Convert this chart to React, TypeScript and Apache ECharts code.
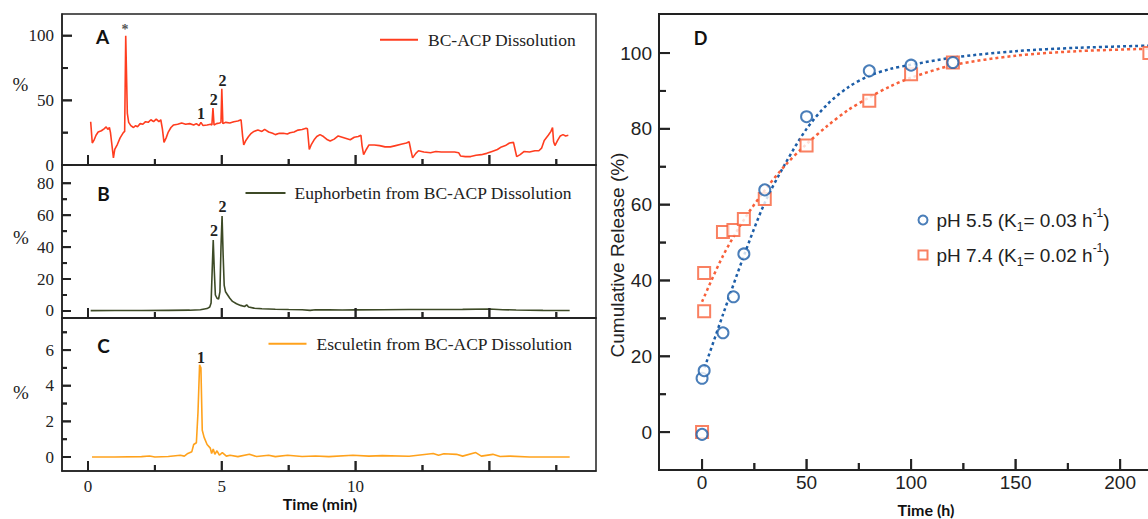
import React, { useEffect, useRef } from "react";
import * as echarts from "echarts";

// ---------- Panel A: BC-ACP dissolution chromatogram [time (min), %] ----------
const traceA: [number, number][] = [
  [0.1, 33.5], [0.16, 17], [0.22, 19], [0.3, 23], [0.38, 25.5], [0.5, 26.5], [0.6, 28], [0.68, 29.5],
  [0.74, 27.5], [0.8, 29], [0.84, 25], [0.88, 18], [0.95, 5.5], [1.0, 12], [1.1, 16], [1.2, 21],
  [1.32, 25], [1.37, 26], [1.41, 100], [1.47, 40], [1.52, 33], [1.6, 30.5], [1.7, 29], [1.78, 30.5],
  [1.85, 29.5], [1.95, 32], [2.05, 31.5], [2.15, 33.5], [2.25, 33], [2.35, 35], [2.45, 33.5], [2.55, 35.5],
  [2.65, 33.5], [2.72, 35], [2.78, 28], [2.84, 17.5], [2.92, 21], [3.0, 25.5], [3.1, 29], [3.2, 31],
  [3.35, 31.5], [3.5, 32.5], [3.65, 31.5], [3.8, 32], [3.95, 31], [4.05, 32], [4.15, 30.5], [4.22, 33],
  [4.3, 30.5], [4.45, 31], [4.58, 31.5], [4.63, 31], [4.67, 44], [4.71, 31], [4.8, 32], [4.92, 32.5],
  [4.97, 33], [5.0, 59], [5.04, 32], [5.15, 33], [5.3, 32.5], [5.45, 33.5], [5.6, 34], [5.72, 35],
  [5.78, 22], [5.82, 15.5], [5.9, 19], [6.0, 22], [6.1, 24.5], [6.2, 26], [6.35, 27], [6.5, 26],
  [6.6, 27.5], [6.75, 25.5], [6.9, 24.5], [7.0, 23.5], [7.15, 24.5], [7.3, 24.5], [7.45, 24], [7.55, 25],
  [7.7, 25.5], [7.85, 27], [8.0, 27.5], [8.15, 28.5], [8.2, 28], [8.27, 12], [8.35, 16], [8.45, 19.5],
  [8.55, 22], [8.67, 23.5], [8.8, 22], [8.95, 19.5], [9.05, 18.5], [9.2, 20], [9.35, 22.5], [9.5, 21.5],
  [9.65, 20.5], [9.8, 19.5], [9.95, 21.5], [10.1, 22], [10.2, 23], [10.24, 15], [10.3, 8], [10.4, 12],
  [10.5, 15.5], [10.7, 15.5], [10.9, 15], [11.1, 14], [11.3, 14], [11.5, 15], [11.7, 16], [11.9, 17],
  [12.0, 18], [12.06, 12], [12.13, 5.5], [12.25, 9], [12.35, 11], [12.55, 10], [12.8, 9.5], [13.0, 10.5],
  [13.2, 10], [13.45, 10], [13.7, 10], [13.85, 9.5], [13.92, 7], [14.1, 6.5], [14.3, 6.5], [14.5, 7.5],
  [14.7, 8], [14.9, 9], [15.1, 10.5], [15.3, 12], [15.45, 14], [15.6, 15], [15.75, 17], [15.9, 17.5],
  [15.96, 12], [16.02, 6.5], [16.15, 8], [16.3, 10.5], [16.5, 10], [16.7, 11], [16.85, 11], [16.95, 13],
  [17.05, 19], [17.2, 23], [17.3, 26], [17.36, 29], [17.4, 18], [17.45, 15], [17.55, 19], [17.65, 22.5],
  [17.75, 23.5], [17.85, 22.5], [17.95, 23],
];
const peakLabelsA = [
  { t: 1.38, v: 104.5, text: "*" },
  { t: 4.22, v: 40.2, text: "1" },
  { t: 4.7, v: 50.3, text: "2" },
  { t: 5.03, v: 65, text: "2" },
];

// ---------- Panel B: Euphorbetin ----------
const traceB: [number, number][] = [
  [0.1, 0.2], [1.0, 0.3], [2.0, 0.3], [3.0, 0.4], [3.8, 0.5], [4.2, 0.8], [4.45, 1.5], [4.55, 2.5],
  [4.6, 5], [4.64, 25], [4.68, 44.5], [4.72, 25], [4.76, 10], [4.82, 8], [4.88, 7.5], [4.93, 12],
  [4.97, 40], [5.01, 59.5], [5.05, 35], [5.09, 16], [5.14, 12], [5.2, 10.5], [5.3, 8], [5.4, 6],
  [5.55, 4.5], [5.7, 3.5], [5.85, 2.8], [5.93, 3.8], [6.0, 2.5], [6.2, 1.8], [6.5, 1.4], [7.0, 1.1],
  [7.5, 0.9], [8.0, 0.8], [8.3, 0.4], [8.5, 0.8], [9.0, 0.7], [9.5, 0.6], [10.0, 0.7], [11.0, 0.8],
  [12.0, 0.9], [13.0, 0.9], [14.0, 1.0], [15.0, 1.2], [15.5, 0.8], [16.0, 0.6], [17.0, 0.4], [18.0, 0.3],
];
const peakLabelsB = [
  { t: 4.71, v: 50.1, text: "2" },
  { t: 5.03, v: 65.3, text: "2" },
];

// ---------- Panel C: Esculetin ----------
const traceC: [number, number][] = [
  [0.15, 0], [1.0, 0], [2.0, 0.02], [2.3, 0.06], [2.5, 0], [3.0, 0.03], [3.45, 0.1], [3.6, 0.05],
  [3.73, 0.2], [3.88, 0.3], [3.95, 0.7], [4.05, 0.8], [4.11, 2.5], [4.17, 5.17], [4.22, 5.0], [4.27, 1.5],
  [4.34, 1.1], [4.45, 0.7], [4.57, 0.5], [4.62, 0.2], [4.68, 0.45], [4.74, 0.15], [4.82, 0.35], [4.91, 0.1],
  [5.02, 0.25], [5.17, 0.05], [5.31, 0.1], [5.6, 0.02], [6.03, 0.15], [6.3, 0.03], [6.75, 0.1], [7.0, 0.02],
  [7.46, 0.1], [8.0, 0.03], [8.5, 0.06], [9.0, 0.02], [9.9, 0.1], [10.5, 0.05], [11.0, 0.08], [12.0, 0.04],
  [12.9, 0.2], [13.1, 0.1], [13.3, 0.18], [13.77, 0.15], [14.0, 0.05], [14.49, 0.25], [14.7, 0.05],
  [15.13, 0.15], [15.4, 0.03], [15.77, 0.05], [16.5, 0], [18.0, 0],
];
const peakLabelsC = [{ t: 4.22, v: 5.6, text: "1" }];

// ---------- Panel D: cumulative release ----------
const timesPH55 = [0, 0, 1, 10, 15, 20, 30, 50, 80, 100, 120];
const releasePH55 = [-0.6, 14.2, 16.2, 26.2, 35.7, 47, 63.9, 83.2, 95.3, 96.8, 97.5];
const timesPH74 = [0, 1, 1, 10, 15, 20, 30, 50, 80, 100, 120, 214];
const releasePH74 = [0, 31.9, 42, 52.8, 53.3, 56.2, 61.5, 75.6, 87.4, 94.4, 97.5, 100];
const fitTimesPH55 = [1.2, 10, 20, 30, 40, 50, 60, 70, 80, 90, 100, 120, 150, 180, 218];
const fitPH55 = [17, 31, 46.5, 60.5, 71, 80, 86.5, 91, 94, 95.8, 96.9, 98.8, 100.5, 101.4, 102];
const fitTimesPH74 = [0, 10, 20, 30, 40, 50, 60, 70, 80, 90, 100, 120, 150, 180, 218];
const fitPH74 = [34.4, 46.5, 56, 63.8, 70.5, 76, 80.8, 85, 88.3, 91.2, 93.5, 96.8, 99.3, 100.5, 101.2];

const nameA = "BC-ACP Dissolution";
const nameB = "Euphorbetin from BC-ACP Dissolution";
const nameC = "Esculetin from BC-ACP Dissolution";
const name55 = "pH 5.5 (K1= 0.03 h-1)";
const name74 = "pH 7.4 (K1= 0.02 h-1)";

// tick values: labelled (major) and unlabelled (minor)
const timeMajor = [0, 5, 10, 15];
const timeMinor = [2.5, 7.5, 12.5, 17.5];
const timeLabels = [0, 5, 10];
const labelsA = [0, 50, 100];
const minorA = [25, 75];
const labelsB = [0, 20, 40, 60, 80];
const minorB = [10, 30, 50, 70];
const labelsC = [0, 2, 4, 6];
const minorC = [1, 3, 5, 7];
const hoursLabels = [0, 50, 100, 150, 200];
const hoursMinor = [25, 75, 125, 175];
const releaseLabels = [0, 20, 40, 60, 80, 100];
const releaseMinor = [10, 30, 50, 70, 90];

const SERIF = "'Liberation Serif', 'Times New Roman', serif";
const SANS = "'Liberation Sans', Arial, sans-serif";
const BOLD = "Lato, 'Open Sans', sans-serif";
const INK = "#222";
const RED = "#ff3d1f";
const OLIVE = "#3d4a26";
const ORANGE = "#ffa21c";
const BLUE = "#1d5ea8";
const SALMON = "#f8603a";

const T_MIN = -0.9716;
const T_MAX = 18.984;
const D_X = [-20.6, 218.6];
const D_Y = [-10, 110.3];
const Y_A = [0, 116.8];
const Y_B = [-4.4, 91.4];
const Y_C = [-0.785, 7.8];

function makeAxis(
  dim: "x" | "y",
  gridIndex: number,
  min: number,
  max: number,
  labels: number[],
  cfg: { width: number; margin: number; fontSize: number; fontFamily: string }
) {
  return {
    type: "value",
    gridIndex,
    min,
    max,
    position: dim === "x" ? "bottom" : "left",
    axisLine: { show: true, onZero: false, lineStyle: { color: INK, width: cfg.width } },
    splitLine: { show: false },
    axisTick: { show: false },
    axisLabel: labels.length
      ? { show: true, customValues: labels, margin: cfg.margin, fontSize: cfg.fontSize, fontFamily: cfg.fontFamily, color: INK }
      : { show: false },
  };
}

// tick specs: [grid, dimension, values, value of the other axis at the frame edge, length, width]
const tickSpecs: [number, "x" | "y", number[], number, number, number][] = [
  [0, "x", timeMajor, Y_A[0], 10, 2],
  [0, "x", timeMinor, Y_A[0], 6, 2],
  [0, "y", labelsA, T_MIN, 10, 2],
  [0, "y", minorA, T_MIN, 6, 2],
  [1, "x", timeMajor, Y_B[0], 10, 2],
  [1, "x", timeMinor, Y_B[0], 6, 2],
  [1, "y", labelsB, T_MIN, 9, 2],
  [1, "y", minorB, T_MIN, 5, 2],
  [2, "x", timeMajor, Y_C[0], 10, 2],
  [2, "x", timeMinor, Y_C[0], 6, 2],
  [2, "y", labelsC, T_MIN, 9, 2],
  [2, "y", minorC, T_MIN, 5, 2],
  [3, "x", hoursLabels, D_Y[0], 11, 2],
  [3, "x", hoursMinor, D_Y[0], 7, 2],
  [3, "y", releaseLabels, D_X[0], 11, 2],
  [3, "y", releaseMinor, D_X[0], 7, 2],
];

// tick marks drawn as thin rect symbols placed through the axes' own scales
function tickSeries(axisIndex: number, dim: "x" | "y", values: number[], at: number, len: number, width: number) {
  return {
    name: "ticks",
    type: "scatter",
    xAxisIndex: axisIndex,
    yAxisIndex: axisIndex,
    data: values.map((v) => (dim === "x" ? [v, at] : [at, v])),
    symbol: "rect",
    symbolSize: dim === "x" ? [width, len] : [len, width],
    symbolOffset: dim === "x" ? [0, -len / 2] : [len / 2, 0],
    itemStyle: { color: INK },
    clip: false,
    silent: true,
    z: 6,
  };
}

const leftCfg = { width: 1.5, margin: 8, fontSize: 17, fontFamily: SERIF };
const leftXCfg = { ...leftCfg, margin: 7 };
const dCfg = { width: 2, margin: 7, fontSize: 19, fontFamily: SANS };
const dXCfg = { ...dCfg, margin: 3 };

function peakMarks(list: { t: number; v: number; text: string }[]) {
  return {
    silent: true,
    symbol: "rect",
    symbolSize: 1,
    itemStyle: { color: "rgba(0,0,0,0)" },
    label: {
      show: true,
      position: "inside",
      formatter: "{b}",
      fontFamily: SERIF,
      fontWeight: "bold",
      fontSize: 16,
      color: INK,
    },
    data: list.map((p) => ({
      name: p.text,
      coord: [p.t, p.v],
      label: p.text === "*" ? { fontSize: 14, color: "#555" } : undefined,
    })),
  };
}

const zip = (xs: number[], ys: number[]) => xs.map((x, i) => [x, ys[i]]);

const legendRich = {
  a: { fontFamily: SANS, fontSize: 19, color: INK, lineHeight: 26 },
  sub: { fontFamily: SANS, fontSize: 12, color: INK, lineHeight: 12, verticalAlign: "bottom" },
  sup: { fontFamily: SANS, fontSize: 12, color: INK, lineHeight: 14, verticalAlign: "top" },
};

const lineLegend = (name: string, left: number, top: number, w: number, pad: number) => ({
  data: [{ name, icon: "rect" }],
  left,
  top,
  padding: 0,
  itemWidth: w,
  itemHeight: 2,
  selectedMode: false,
  textStyle: { fontFamily: SERIF, fontSize: 17.5, color: INK, padding: [0, 0, 0, pad] },
});

const gridBase = { show: true, borderColor: INK, outerBoundsMode: "none", containLabel: false };

const textElements: any[] = [
  { type: "text", x: 102.5, y: 36, style: { text: "A", font: `bold 19px ${BOLD}`, fill: "#111", align: "center", verticalAlign: "middle" } },
  { type: "text", x: 103.5, y: 193, style: { text: "B", font: `bold 19px ${BOLD}`, fill: "#111", align: "center", verticalAlign: "middle" } },
  { type: "text", x: 103.5, y: 345, style: { text: "C", font: `bold 19px ${BOLD}`, fill: "#111", align: "center", verticalAlign: "middle" } },
  { type: "text", x: 700.5, y: 37.5, style: { text: "D", font: `bold 18px ${BOLD}`, fill: "#111", align: "center", verticalAlign: "middle" } },
  { type: "text", x: 20.5, y: 84, style: { text: "%", font: `19px ${SERIF}`, fill: INK, align: "center", verticalAlign: "middle" } },
  { type: "text", x: 21, y: 237, style: { text: "%", font: `19px ${SERIF}`, fill: INK, align: "center", verticalAlign: "middle" } },
  { type: "text", x: 21, y: 392, style: { text: "%", font: `19px ${SERIF}`, fill: INK, align: "center", verticalAlign: "middle" } },
  { type: "text", x: 320, y: 503, style: { text: "Time (min)", font: `bold 16px ${BOLD}`, fill: "#111", align: "center", verticalAlign: "middle" } },
  { type: "text", x: 926, y: 509, style: { text: "Time (h)", font: `bold 16px ${BOLD}`, fill: "#111", align: "center", verticalAlign: "middle" } },
  {
    type: "text",
    x: 617,
    y: 255,
    rotation: Math.PI / 2,
    style: { text: "Cumulative Release (%)", font: `19px ${SANS}`, fill: INK, align: "center", verticalAlign: "middle" },
  },
];

const option: any = {
  animation: false,
  backgroundColor: "#fff",
  grid: [
    { ...gridBase, left: 62, top: 14, width: 534, height: 151, borderWidth: 1.5 },
    { ...gridBase, left: 62, top: 165, width: 534, height: 153, borderWidth: 1.5 },
    { ...gridBase, left: 62, top: 318, width: 534, height: 153, borderWidth: 1.5 },
    { ...gridBase, left: 659, top: 14, width: 500, height: 456, borderWidth: 2 },
  ],
  xAxis: [
    makeAxis("x", 0, T_MIN, T_MAX, [], leftXCfg),
    makeAxis("x", 1, T_MIN, T_MAX, [], leftXCfg),
    makeAxis("x", 2, T_MIN, T_MAX, timeLabels, leftXCfg),
    makeAxis("x", 3, D_X[0], D_X[1], hoursLabels, dXCfg),
  ],
  yAxis: [
    makeAxis("y", 0, Y_A[0], Y_A[1], labelsA, leftCfg),
    makeAxis("y", 1, Y_B[0], Y_B[1], labelsB, leftCfg),
    makeAxis("y", 2, Y_C[0], Y_C[1], labelsC, leftCfg),
    makeAxis("y", 3, D_Y[0], D_Y[1], releaseLabels, dCfg),
  ],
  legend: [
    lineLegend(nameA, 380, 30.8, 38, 5),
    lineLegend(nameB, 245.5, 184, 40, 4),
    lineLegend(nameC, 268.5, 334.8, 38, 5),
    {
      data: [name55, name74],
      left: 917.5,
      top: 207,
      padding: 0,
      orient: "vertical",
      itemWidth: 9,
      itemHeight: 9,
      itemGap: 9,
      selectedMode: false,
      formatter: (n: string) =>
        n === name55
          ? "{a|pH 5.5 (K}{sub|1}{a|= 0.03 h}{sup|-1}{a|)}"
          : "{a|pH 7.4 (K}{sub|1}{a|= 0.02 h}{sup|-1}{a|)}",
      textStyle: { padding: [0, 0, 0, 4], rich: legendRich },
    },
  ],
  series: [
    {
      name: nameA,
      type: "line",
      xAxisIndex: 0,
      yAxisIndex: 0,
      data: traceA,
      symbol: "none",
      lineStyle: { color: RED, width: 1.6 },
      itemStyle: { color: RED },
      markPoint: peakMarks(peakLabelsA),
    },
    {
      name: nameB,
      type: "line",
      xAxisIndex: 1,
      yAxisIndex: 1,
      data: traceB,
      symbol: "none",
      lineStyle: { color: OLIVE, width: 1.6 },
      itemStyle: { color: OLIVE },
      markPoint: peakMarks(peakLabelsB),
    },
    {
      name: nameC,
      type: "line",
      xAxisIndex: 2,
      yAxisIndex: 2,
      data: traceC,
      symbol: "none",
      lineStyle: { color: ORANGE, width: 1.6 },
      itemStyle: { color: ORANGE },
      markPoint: peakMarks(peakLabelsC),
    },
    {
      name: "fit pH 5.5",
      type: "line",
      xAxisIndex: 3,
      yAxisIndex: 3,
      data: zip(fitTimesPH55, fitPH55),
      symbol: "none",
      smooth: 0.3,
      lineStyle: { color: BLUE, width: 2.5, type: [3, 3] },
    },
    {
      name: "fit pH 7.4",
      type: "line",
      xAxisIndex: 3,
      yAxisIndex: 3,
      data: zip(fitTimesPH74, fitPH74),
      symbol: "none",
      smooth: 0.3,
      lineStyle: { color: SALMON, width: 2.5, type: [3, 3] },
    },
    {
      name: name55,
      type: "scatter",
      xAxisIndex: 3,
      yAxisIndex: 3,
      data: zip(timesPH55, releasePH55),
      symbol: "emptyCircle",
      symbolSize: 11,
      itemStyle: { color: BLUE, borderColor: BLUE, borderWidth: 2 },
      z: 5,
    },
    {
      name: name74,
      type: "scatter",
      xAxisIndex: 3,
      yAxisIndex: 3,
      data: zip(timesPH74, releasePH74),
      symbol: "emptyRect",
      symbolSize: 12,
      itemStyle: { color: SALMON, borderColor: SALMON, borderWidth: 2 },
      z: 4,
    },
    ...tickSpecs.map((s) => tickSeries(s[0], s[1], s[2], s[3], s[4], s[5])),
  ],
  graphic: { elements: textElements },
};

export default function App() {
  const ref = useRef<HTMLDivElement>(null);
  useEffect(() => {
    if (!ref.current) return;
    const chart = echarts.init(ref.current, null, { renderer: "svg" });
    chart.setOption(option);
    // also draw the ticks as plain lines, positioned through the axes' scales
    try {
      const lines: any[] = [];
      tickSpecs.forEach(([g, dim, values, at, len, width]) => {
        values.forEach((v) => {
          const p = chart.convertToPixel({ gridIndex: g }, dim === "x" ? [v, at] : [at, v]) as number[];
          if (!p || isNaN(p[0]) || isNaN(p[1])) return;
          lines.push({
            type: "line",
            silent: true,
            z: 20,
            shape:
              dim === "x"
                ? { x1: p[0], y1: p[1], x2: p[0], y2: p[1] - len }
                : { x1: p[0], y1: p[1], x2: p[0] + len, y2: p[1] },
            style: { stroke: INK, lineWidth: width },
          });
        });
      });
      chart.setOption({ graphic: { elements: [...textElements, ...lines] } });
    } catch (e) {
      // keep the chart as drawn
    }
    return () => chart.dispose();
  }, []);
  return (
    <div
      ref={ref}
      style={{ position: "absolute", left: 0, top: 0, width: 1148, height: 519, background: "#fff", overflow: "hidden" }}
    />
  );
}
